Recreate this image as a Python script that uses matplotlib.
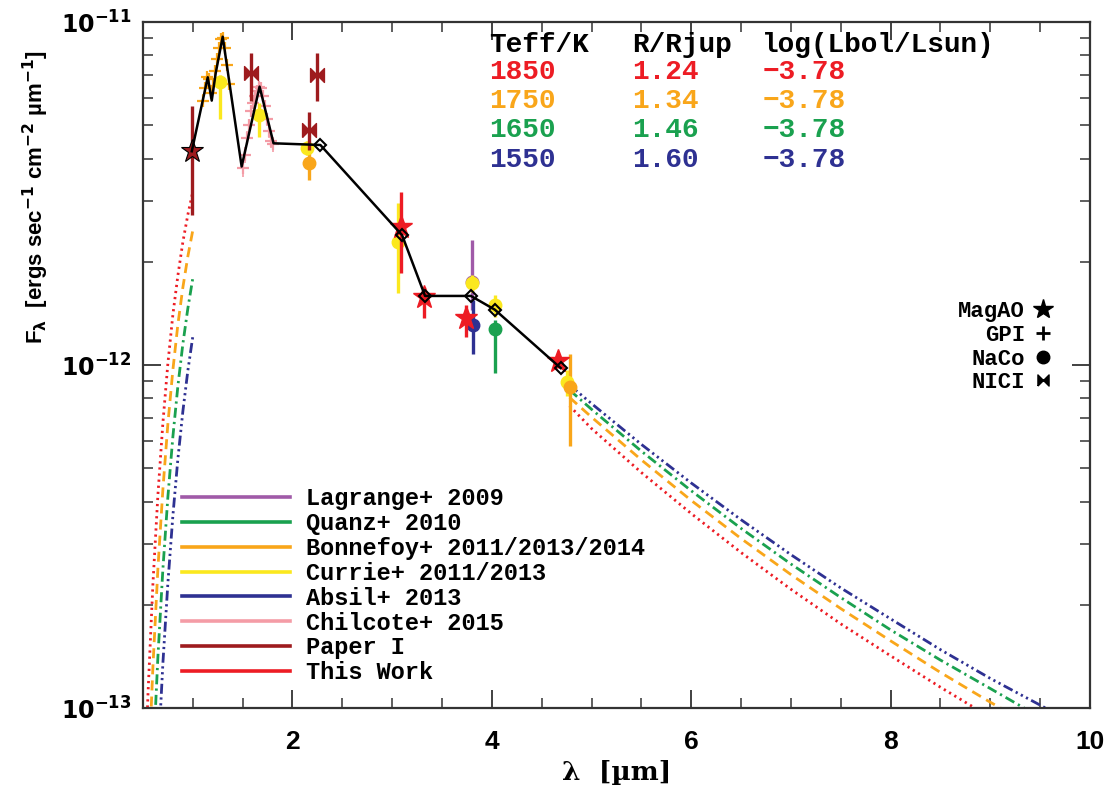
import numpy as np
import matplotlib.pyplot as plt
from matplotlib.lines import Line2D
from matplotlib.ticker import MultipleLocator, FixedLocator, LogLocator, FuncFormatter, NullFormatter

nan = np.nan
scale = 1e-12  # all fluxes below are in units of 1e-12 ergs/s/cm2/um

# composite SED (black line); the last six points are the photometric model points
sed_x = [0.99, 1.15, 1.19, 1.23, 1.30, 1.49, 1.67, 1.81, 2.28, 3.10, 3.33, 3.79, 4.03, 4.69]
sed_f = [4.2, 6.9, 5.9, 7.1, 9.06, 3.79, 6.48, 4.43, 4.38, 2.39, 1.59, 1.59, 1.45, 0.98]
n_diam = 6

# blackbody models (left and right wings, gap in the middle)
mod_x = [0.50, 0.55, 0.60, 0.65, 0.70, 0.75, 0.80, 0.85, 0.90, 0.95, 1.00, nan,
         4.78, 5.0, 5.5, 6.0, 6.5, 7.0, 7.5, 8.0, 8.5, 9.0, 9.5, 10.0]
mod_1850 = [0.043, 0.109, 0.230, 0.418, 0.678, 1.01, 1.40, 1.82, 2.28, 2.74, 3.20, nan,
            0.76, 0.653, 0.486, 0.369, 0.284, 0.222, 0.176, 0.142, 0.115, 0.094, 0.078, 0.065]
mod_1750 = [0.021, 0.059, 0.132, 0.255, 0.434, 0.673, 0.966, 1.31, 1.68, 2.07, 2.47, nan,
            0.804, 0.705, 0.529, 0.403, 0.312, 0.245, 0.195, 0.157, 0.127, 0.104, 0.086, 0.072]
mod_1650 = [0.0093, 0.028, 0.069, 0.141, 0.254, 0.412, 0.617, 0.866, 1.15, 1.46, 1.79, nan,
            0.845, 0.743, 0.561, 0.430, 0.334, 0.263, 0.210, 0.169, 0.138, 0.114, 0.094, 0.079]
mod_1550 = [0.0036, 0.012, 0.032, 0.070, 0.135, 0.231, 0.363, 0.531, 0.731, 0.961, 1.21, nan,
            0.874, 0.772, 0.587, 0.453, 0.354, 0.280, 0.224, 0.182, 0.148, 0.122, 0.102, 0.085]

teff = ['1850', '1750', '1650', '1550']
radius = ['1.24', '1.34', '1.46', '1.60']
logl = ['-3.78', '-3.78', '-3.78', '-3.78']

# Paper I (MagAO star + NICI)
p1_star_x, p1_star_f, p1_star_lo, p1_star_hi = [0.99], [4.2], [1.47], [1.5]
p1_nici_x = [1.58, 2.17, 2.25]
p1_nici_f = [7.1, 4.84, 7.0]
p1_nici_lo = [1.2, 0.6, 1.1]
p1_nici_hi = [1.0, 0.63, 1.1]

# This Work (MagAO)
tw_x = [3.09, 3.32, 3.74, 4.66]
tw_f = [2.52, 1.58, 1.37, 1.03]
tw_lo = [0.67, 0.21, 0.16, 0.05]
tw_hi = [0.68, 0.11, 0.13, 0.05]

# Bonnefoy GPI J band spectrum and NaCo points
bon_j_x = [1.10, 1.12, 1.14, 1.16, 1.18, 1.20, 1.22, 1.24, 1.26, 1.28, 1.30, 1.32, 1.34, 1.36]
bon_j_f = [5.9, 6.4, 6.9, 6.8, 6.2, 6.5, 7.2, 7.8, 8.4, 8.9, 9.0, 8.4, 7.5, 6.6]
bon_x = [2.17, 4.78]
bon_f = [3.88, 0.86]
bon_lo = [0.42, 0.28]
bon_hi = [0.27, 0.22]

# Currie NaCo
cur_x = [1.27, 1.66, 2.15, 3.06, 3.80, 4.03, 4.75]
cur_f = [6.7, 5.36, 4.3, 2.29, 1.73, 1.50, 0.89]
cur_lo = [1.5, 0.74, 0.2, 0.67, 0.1, 0.12, 0.08]
cur_hi = [0.3, 0.45, 0.2, 0.67, 0.1, 0.1, 0.08]

# Lagrange, Absil, Quanz
lag_x, lag_f, lag_lo, lag_hi = [3.80], [1.75], [0.3], [0.56]
abs_x, abs_f, abs_lo, abs_hi = [3.81], [1.31], [0.23], [0.24]
qua_x, qua_f, qua_lo, qua_hi = [4.03], [1.27], [0.32], [0.08]

# Chilcote GPI H band spectrum
chi_x = [1.50, 1.52, 1.54, 1.56, 1.58, 1.60, 1.62, 1.64, 1.66, 1.68, 1.70, 1.72, 1.74, 1.76, 1.78, 1.80]
chi_f = [3.75, 4.1, 4.6, 5.0, 5.5, 5.8, 6.1, 6.3, 6.45, 6.4, 6.1, 5.7, 5.2, 4.8, 4.5, 4.4]

c_lag, c_qua, c_bon, c_cur = '#a05aa8', '#1aa14f', '#f9a61a', '#fbe81e'
c_abs, c_chi, c_p1, c_tw = '#2e3192', '#f49ca6', '#9e1b1e', '#ed1c24'

mono = 'Liberation Mono'
bowtie = [(-1, -1), (-1, 1), (1, -1), (1, 1), (-1, -1)]


def f(v):
    return np.array(v) * scale


fig = plt.figure(figsize=(11.09, 7.86), dpi=100)
ax = fig.add_axes([0.1289, 0.0992, 0.8539, 0.8728])
ax.set_yscale('log')

# models
ax.plot(mod_x, f(mod_1850), color=c_tw, lw=2, ls=(0, (0.8, 1.4)))
ax.plot(mod_x, f(mod_1750), color=c_bon, lw=2, ls=(0, (3.6, 2.2)))
ax.plot(mod_x, f(mod_1650), color=c_qua, lw=2, ls=(0, (3.6, 1.5, 0.8, 1.5)))
ax.plot(mod_x, f(mod_1550), color=c_abs, lw=2, ls=(0, (3.6, 1.3, 0.8, 1.3, 0.8, 1.3, 0.8, 1.3)))

eb = dict(ls='none', elinewidth=2.4, capsize=0)
ax.errorbar(chi_x, f(chi_f), yerr=0.22 * scale, fmt='+', color=c_chi, ms=8, mew=1.6, elinewidth=1.2, zorder=3)
ax.errorbar(bon_j_x, f(bon_j_f), yerr=0.25 * scale, fmt='+', color=c_bon, ms=8, mew=1.6, elinewidth=1.2, zorder=3)
ax.errorbar(lag_x, f(lag_f), yerr=[f(lag_lo), f(lag_hi)], fmt='o', color=c_lag, ms=9, zorder=3, **eb)
ax.errorbar(cur_x, f(cur_f), yerr=[f(cur_lo), f(cur_hi)], fmt='o', color=c_cur, ms=9, zorder=4, **eb)
ax.errorbar(bon_x, f(bon_f), yerr=[f(bon_lo), f(bon_hi)], fmt='o', color=c_bon, ms=9, zorder=4, **eb)
ax.errorbar(abs_x, f(abs_f), yerr=[f(abs_lo), f(abs_hi)], fmt='o', color=c_abs, ms=9, zorder=4, **eb)
ax.errorbar(qua_x, f(qua_f), yerr=[f(qua_lo), f(qua_hi)], fmt='o', color=c_qua, ms=9, zorder=4, **eb)
ax.errorbar(p1_nici_x, f(p1_nici_f), yerr=[f(p1_nici_lo), f(p1_nici_hi)], fmt='none', ecolor=c_p1, zorder=5, **eb)
ax.plot(p1_nici_x, f(p1_nici_f), ls='none', marker=bowtie, color=c_p1, ms=10, zorder=5)
ax.errorbar(p1_star_x, f(p1_star_f), yerr=[f(p1_star_lo), f(p1_star_hi)], fmt='*', color=c_p1,
            mec='k', mew=0.8, ms=17, zorder=5, **eb)
ax.errorbar(tw_x, f(tw_f), yerr=[f(tw_lo), f(tw_hi)], fmt='*', color=c_tw, ms=17, zorder=5, **eb)

# composite SED
ax.plot(sed_x, f(sed_f), color='k', lw=1.8, zorder=6)
ax.plot(sed_x[-n_diam:], f(sed_f[-n_diam:]), ls='none', marker='D', ms=6, mfc='none', mec='k', mew=1.5, zorder=7)

ax.set_xlim(0.5, 10)
ax.set_ylim(1e-13, 1e-11)
ax.xaxis.set_major_locator(MultipleLocator(2))
ax.xaxis.set_minor_locator(MultipleLocator(0.5))
ax.yaxis.set_major_locator(FixedLocator([1e-13, 1e-12, 1e-11]))
ax.yaxis.set_minor_locator(LogLocator(base=10, subs=np.arange(2, 10)))
ax.yaxis.set_minor_formatter(NullFormatter())
ax.yaxis.set_major_formatter(FuncFormatter(lambda v, p: r'$\mathbf{10^{%d}}$' % round(np.log10(v))))
ax.tick_params(which='both', direction='in', top=True, right=True, colors='#333333')
ax.tick_params(which='major', length=13, width=1.3, pad=8)
ax.tick_params(axis='x', which='major', labelsize=19, pad=16)
ax.tick_params(axis='y', which='major', labelsize=17, pad=8)
ax.tick_params(which='minor', length=7, width=1.1)
for lab in ax.get_xticklabels():
    lab.set_fontfamily('Liberation Sans')
    lab.set_fontweight('bold')
    lab.set_color('k')
for lab in ax.get_yticklabels():
    lab.set_color('k')
for s in ax.spines.values():
    s.set_linewidth(1.6)
    s.set_color('#333333')

ax.set_xlabel('λ  [µm]', fontsize=19, fontweight='bold', family='DejaVu Serif', labelpad=4)
ax.set_ylabel(r'F$_\mathbf{\lambda}$  [ergs sec$^\mathbf{-1}$ cm$^\mathbf{-2}$ µm$^\mathbf{-1}$]',
              fontsize=16, fontweight='bold', family='Liberation Sans')
ax.yaxis.set_label_coords(-0.097, 0.745)

# parameter table
cols = [0.366, 0.517, 0.654]
rows = [0.927, 0.885, 0.843, 0.799]
tcolors = [c_tw, c_bon, c_qua, c_abs]
tprop = dict(family=mono, weight='bold', fontsize=20, transform=ax.transAxes, va='center', ha='left')
for x, h in zip(cols, ['Teff/K', 'R/Rjup', 'log(Lbol/Lsun)']):
    ax.text(x, 0.966, h, color='k', **tprop)
for i in range(4):
    for x, v in zip(cols, [teff[i], radius[i], logl[i].replace('-', '\u2212')]):
        ax.text(x, rows[i], v, color=tcolors[i], **tprop)

# reference legend
ref_labels = ['Lagrange+ 2009', 'Quanz+ 2010', 'Bonnefoy+ 2011/2013/2014', 'Currie+ 2011/2013',
              'Absil+ 2013', 'Chilcote+ 2015', 'Paper I', 'This Work']
ref_colors = [c_lag, c_qua, c_bon, c_cur, c_abs, c_chi, c_p1, c_tw]
h1 = [Line2D([], [], color=c, lw=2.6) for c in ref_colors]
leg1 = ax.legend(h1, ref_labels, loc='upper left', bbox_to_anchor=(0.041, 0.322), frameon=False,
                 prop=dict(family=mono, weight='bold', size=17), handlelength=4.6, handletextpad=0.65,
                 labelspacing=0.08, borderpad=0, borderaxespad=0)
ax.add_artist(leg1)

# instrument legend
inst_labels = ['MagAO', 'GPI', 'NaCo', 'NICI']
h2 = [Line2D([], [], ls='none', marker='*', color='k', ms=15),
      Line2D([], [], ls='none', marker='+', color='k', ms=10, mew=2),
      Line2D([], [], ls='none', marker='o', color='k', ms=9),
      Line2D([], [], ls='none', marker=bowtie, color='k', ms=8)]
ax.legend(h2, inst_labels, loc='upper right', bbox_to_anchor=(0.962, 0.593), frameon=False, markerfirst=False,
          prop=dict(family=mono, weight='bold', size=16), handlelength=1.0, handletextpad=0.3,
          labelspacing=0.12, borderpad=0, borderaxespad=0)

fig.savefig('out.png', dpi=100)
